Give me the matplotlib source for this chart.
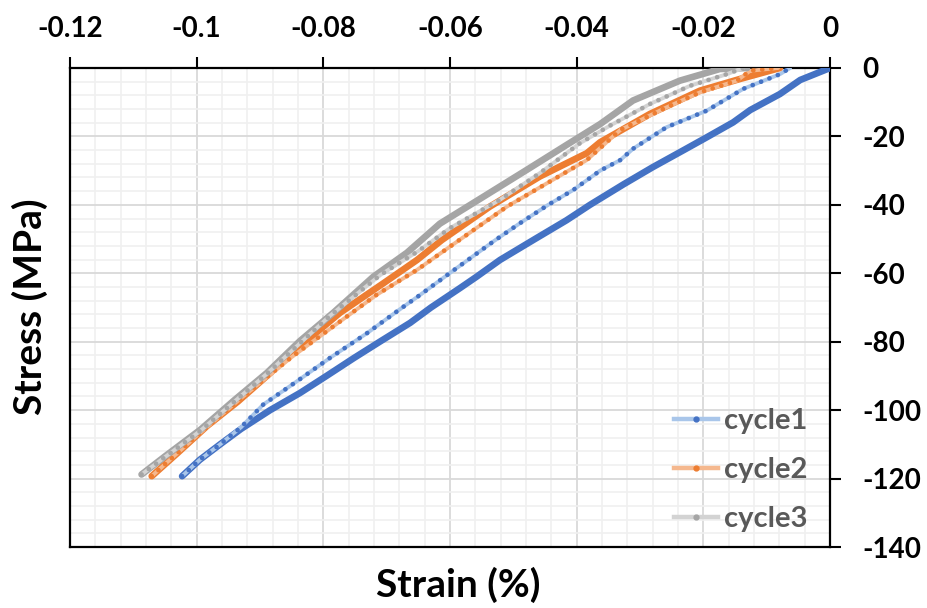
import matplotlib
matplotlib.use("Agg")
import matplotlib.pyplot as plt
from matplotlib.lines import Line2D
from matplotlib.ticker import MultipleLocator

# ---------------- data (strain %, stress MPa) ----------------
c1_load_x = [0.0, -0.0047, -0.0079, -0.0126, -0.0153, -0.0197, -0.0232, -0.0280, -0.0326,
             -0.0379, -0.0416, -0.0466, -0.0521, -0.0558, -0.0584, -0.0630, -0.0663, -0.0710,
             -0.0752, -0.0795, -0.0837, -0.0884, -0.0930, -0.0963, -0.0995, -0.1023]
c1_load_y = [0.0, -3.5, -7.6, -12.3, -15.9, -20.5, -24.1, -29.0, -34.0,
             -40.0, -44.5, -50.0, -56.1, -61.0, -64.3, -70.0, -74.5, -79.9,
             -84.8, -90.0, -95.0, -100.0, -105.5, -110.0, -114.5, -119.3]
c1_unload_x = [-0.1023, -0.0995, -0.0963, -0.0930, -0.0895, -0.0845, -0.0790, -0.0731, -0.0679,
               -0.0647, -0.0600, -0.0568, -0.0530, -0.0489, -0.0445, -0.0405, -0.0363, -0.0331,
               -0.0311, -0.0258, -0.0195, -0.0137, -0.0079, -0.0063]
c1_unload_y = [-119.3, -114.5, -110.0, -105.0, -98.4, -92.0, -84.8, -77.5, -70.5,
               -66.3, -59.9, -55.6, -50.5, -45.3, -40.0, -35.6, -30.0, -26.9,
               -23.6, -17.3, -12.5, -6.1, -1.8, 0.0]

c2_load_x = [-0.0079, -0.0142, -0.0205, -0.0284, -0.0363, -0.0384, -0.0458, -0.0537, -0.0613,
             -0.0652, -0.0705, -0.0774, -0.0837, -0.0889, -0.0935, -0.0984, -0.1030, -0.1071]
c2_load_y = [0.0, -3.2, -6.6, -13.4, -21.7, -24.9, -31.7, -40.5, -50.3,
             -56.1, -62.9, -71.6, -81.4, -90.0, -97.5, -104.7, -112.5, -119.3]
c2_unload_x = [-0.1071, -0.1000, -0.0930, -0.0850, -0.0784, -0.0716, -0.0652, -0.0600, -0.0510,
               -0.0447, -0.0384, -0.0331, -0.0258, -0.0205, -0.0147, -0.0126, -0.0082]
c2_unload_y = [-119.3, -107.5, -96.5, -84.5, -75.5, -66.3, -59.0, -52.2, -40.5,
               -33.7, -26.9, -18.1, -11.5, -7.1, -3.7, -0.8, 0.0]

c3_load_x = [-0.0131, -0.0174, -0.0237, -0.0311, -0.0363, -0.0416, -0.0479, -0.0547, -0.0616,
             -0.0668, -0.0721, -0.0784, -0.0837, -0.0889, -0.0940, -0.0994, -0.1050, -0.1087]
c3_load_y = [0.0, -0.3, -3.7, -9.5, -16.4, -22.5, -29.8, -37.6, -45.5,
             -54.0, -61.0, -71.5, -79.8, -89.1, -97.0, -105.7, -113.5, -118.8]
c3_unload_x = [-0.1087, -0.0994, -0.0890, -0.0790, -0.0710, -0.0650, -0.0600, -0.0521, -0.0458,
               -0.0395, -0.0347, -0.0284, -0.0221, -0.0163, -0.0137]
c3_unload_y = [-118.8, -106.0, -89.5, -72.5, -60.5, -53.5, -46.8, -38.5, -30.7,
               -22.0, -16.8, -10.5, -5.2, -1.8, 0.0]

series_names = ["cycle1", "cycle2", "cycle3"]
x_ticks = [-0.12, -0.10, -0.08, -0.06, -0.04, -0.02, 0.0]
x_tick_labels = ["-0.12", "-0.1", "-0.08", "-0.06", "-0.04", "-0.02", "0"]
y_ticks = [-140, -120, -100, -80, -60, -40, -20, 0]
y_tick_labels = ["-140", "-120", "-100", "-80", "-60", "-40", "-20", "0"]

# ---------------- style ----------------
dark = ["#4472C4", "#ED7D31", "#A5A5A5"]
light = ["#A9C6EA", "#F5B88E", "#D3D3D3"]
FONT = "Lato"

fig = plt.figure(figsize=(9.27, 6.08), dpi=100)
ax = fig.add_axes([70 / 927, 1 - 547 / 608, 760 / 927, 479 / 608])

data = [
    (c1_load_x, c1_load_y, c1_unload_x, c1_unload_y),
    (c2_load_x, c2_load_y, c2_unload_x, c2_unload_y),
    (c3_load_x, c3_load_y, c3_unload_x, c3_unload_y),
]

for i, (lx, ly, ux, uy) in enumerate(data):
    z = 3 + i
    # slow branch (dense markers)
    ax.plot(lx, ly, color=dark[i], lw=4.8, solid_capstyle="round",
            solid_joinstyle="round", zorder=z)
    # fast branch (sparse markers)
    ax.plot(ux, uy, color=light[i], lw=2.8, solid_capstyle="round", zorder=z)
    ax.plot(ux, uy, color=dark[i], lw=3.4, linestyle=(0, (0.01, 1.9)),
            dash_capstyle="round", zorder=z + 0.1)

ax.set_xlim(-0.12, 0.0)
ax.set_ylim(-140, 0)

ax.xaxis.set_minor_locator(MultipleLocator(0.004))
ax.yaxis.set_minor_locator(MultipleLocator(4))
ax.set_xticks(x_ticks)
ax.set_xticklabels(x_tick_labels)
ax.set_yticks(y_ticks)
ax.set_yticklabels(y_tick_labels)

ax.grid(which="major", color="#D9D9D9", lw=1.3, zorder=0)
ax.grid(which="minor", color="#F0F0F0", lw=1.2, zorder=0)
ax.set_axisbelow(True)

ax.xaxis.tick_top()
ax.yaxis.tick_right()
ax.tick_params(axis="both", which="major", direction="out", length=8, width=1.5,
               color="black", labelsize=20)
ax.tick_params(axis="x", which="major", pad=11)
ax.tick_params(axis="y", which="major", pad=15)
ax.tick_params(axis="both", which="minor", length=0)
for lab in ax.get_xticklabels() + ax.get_yticklabels():
    lab.set_fontfamily(FONT)
    lab.set_fontweight("bold")

for s in ax.spines.values():
    s.set_color("black")
    s.set_linewidth(1.6)

fig.text(458 / 927, 1 - 585 / 608, "Strain (%)", ha="center", va="center",
         fontsize=28, fontweight="bold", family=FONT)
fig.text(30 / 927, 1 - 307 / 608, "Stress (MPa)", ha="center", va="center",
         rotation=90, fontsize=28, fontweight="bold", family=FONT)

handles = [Line2D([], [], color=light[i], lw=3.2, marker="o", markersize=3.5,
                  markerfacecolor=dark[i], markeredgecolor=dark[i])
           for i in range(3)]
leg = ax.legend(handles, series_names, loc="lower right",
                bbox_to_anchor=(752 / 760, 0.0), frameon=False, borderpad=0,
                handlelength=1.5, handletextpad=0.2, labelspacing=0.8,
                prop={"family": FONT, "weight": "bold", "size": 21})
for t in leg.get_texts():
    t.set_color("#595959")

fig.savefig("out.png", dpi=100)
